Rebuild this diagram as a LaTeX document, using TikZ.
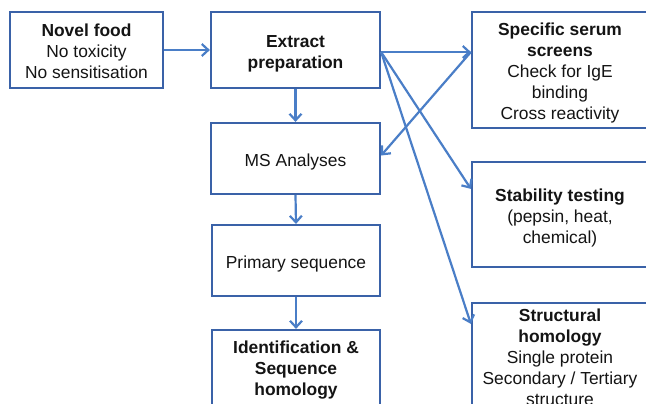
\documentclass[tikz,border=0pt]{standalone}
\usepackage{fontspec}
\setmainfont{Liberation Sans}
\usetikzlibrary{arrows.meta}
\definecolor{boxblue}{RGB}{58,98,168}
\definecolor{arrblue}{RGB}{74,126,199}
\definecolor{txt}{RGB}{20,20,20}
\tikzset{
  box/.style={draw=boxblue, line width=2.2pt, rectangle, inner sep=0pt},
  lbl/.style={inner sep=0pt, align=center, text=txt, font=\fontsize{17.4}{21}\selectfont},
  conn/.style={draw=arrblue, line width=2.2pt, -{Straight Barb[length=6.5pt,width=12pt,line width=2.2pt]}}
}
\begin{document}
\begin{tikzpicture}[x=1pt,y=-1pt]
\useasboundingbox (0,0) rectangle (646,404);
\clip (0,0) rectangle (646,404);
\fill[white] (0,0) rectangle (646,404);
\node[box, minimum width=153pt, minimum height=76pt] (novel) at (86.5,50) {};
\node[lbl] (novelt) at ([yshift=-1.5pt]novel.center)
  {\textbf{Novel food}\\No toxicity\\No sensitisation};
\node[box, minimum width=169pt, minimum height=76pt] (extract) at (295.5,50) {};
\node[lbl] (extractt) at ([yshift=-3.5pt]extract.center)
  {\textbf{Extract}\\\textbf{preparation}};
\node[box, minimum width=169pt, minimum height=71pt] (ms) at (295.5,158.5) {};
\node[lbl] (mst) at ([yshift=-3.5pt]ms.center) {MS Analyses};
\node[box, minimum width=168pt, minimum height=71pt] (prim) at (296,260.5) {};
\node[lbl] (primt) at ([yshift=-3.5pt]prim.center) {Primary sequence};
\node[box, minimum width=168pt, minimum height=80pt] (ident) at (296,370) {};
\node[lbl] (identt) at (ident.center)
  {\textbf{Identification \&}\\\textbf{Sequence}\\\textbf{homology}};
\node[box, minimum width=176pt, minimum height=116pt] (serum) at (560,70) {};
\node[lbl] (serumt) at ([yshift=-3.5pt]serum.center)
  {\textbf{Specific serum}\\\textbf{screens}\\Check for IgE\\binding\\Cross reactivity};
\node[box, minimum width=176pt, minimum height=105pt] (stab) at (560,214.5) {};
\node[lbl] (stabt) at ([yshift=-3pt]stab.center)
  {\textbf{Stability testing}\\(pepsin, heat,\\chemical)};
\node[box, minimum width=176pt, minimum height=108pt] (struct) at (560,357) {};
\node[lbl] (structt) at (struct.center)
  {\textbf{Structural}\\\textbf{homology}\\Single protein\\Secondary / Tertiary\\structure};
\coordinate (exo) at ([yshift=-2pt]extract.east);
\coordinate (serin) at ([yshift=18pt]serum.west);
\draw[conn] (novel.east) -- (extract.west);
\draw[conn] (extract.south) -- (ms.north);
\draw[conn] (ms.south) -- (prim.north);
\draw[conn] (prim.south) -- (ident.north);
\draw[conn] (exo) -- (serin);
\draw[conn] (serin) -- ([yshift=3pt]ms.east);
\draw[conn] (exo) -- ([yshift=-28pt]stab.north west);
\draw[conn] (exo) -- ([yshift=-22pt]struct.north west);
\end{tikzpicture}
\end{document}
